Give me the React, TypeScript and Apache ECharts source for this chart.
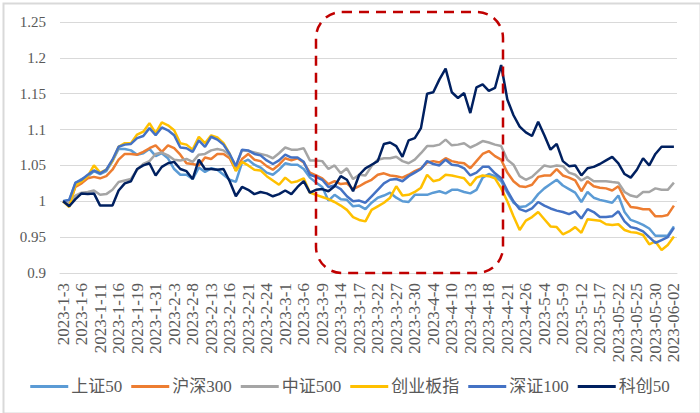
import React, { useEffect, useRef } from "react";
import * as echarts from "echarts";

const dates: string[] = [
  "2023-1-3","2023-1-4","2023-1-5","2023-1-6","2023-1-9","2023-1-10","2023-1-11","2023-1-12","2023-1-13","2023-1-16",
  "2023-1-17","2023-1-18","2023-1-19","2023-1-20","2023-1-30","2023-1-31","2023-2-1","2023-2-2","2023-2-3","2023-2-6",
  "2023-2-7","2023-2-8","2023-2-9","2023-2-10","2023-2-13","2023-2-14","2023-2-15","2023-2-16","2023-2-17","2023-2-20",
  "2023-2-21","2023-2-22","2023-2-23","2023-2-24","2023-2-27","2023-2-28","2023-3-1","2023-3-2","2023-3-3","2023-3-6",
  "2023-3-7","2023-3-8","2023-3-9","2023-3-10","2023-3-13","2023-3-14","2023-3-15","2023-3-16","2023-3-17","2023-3-20",
  "2023-3-21","2023-3-22","2023-3-23","2023-3-24","2023-3-27","2023-3-28","2023-3-29","2023-3-30","2023-3-31","2023-4-3",
  "2023-4-4","2023-4-6","2023-4-7","2023-4-10","2023-4-11","2023-4-12","2023-4-13","2023-4-14","2023-4-17","2023-4-18",
  "2023-4-19","2023-4-20","2023-4-21","2023-4-24","2023-4-25","2023-4-26","2023-4-27","2023-4-28","2023-5-4","2023-5-5",
  "2023-5-8","2023-5-9","2023-5-10","2023-5-11","2023-5-12","2023-5-15","2023-5-16","2023-5-17","2023-05-18","2023-05-19",
  "2023-05-22","2023-05-23","2023-05-24","2023-05-25","2023-05-26","2023-05-29","2023-05-30","2023-05-31","2023-06-01","2023-06-02",
];

const seriesNames: string[] = ["上证50", "沪深300", "中证500", "创业板指", "深证100", "科创50"];
const seriesColors: string[] = ["#5B9BD5", "#ED7D31", "#A5A5A5", "#FFC000", "#4472C4", "#002060"];

const sz50: number[] = [
  1.000,1.002,1.025,1.031,1.035,1.042,1.038,1.042,1.056,1.073,
  1.073,1.071,1.065,1.067,1.073,1.063,1.067,1.060,1.045,1.037,
  1.037,1.031,1.047,1.041,1.046,1.044,1.037,1.030,1.027,1.054,
  1.058,1.051,1.047,1.040,1.037,1.044,1.053,1.051,1.051,1.045,
  1.033,1.026,1.020,1.001,1.009,1.003,1.002,0.993,0.994,0.989,
  0.998,1.005,1.008,1.012,1.005,1.000,0.999,1.009,1.009,1.009,
  1.012,1.014,1.011,1.016,1.016,1.013,1.011,1.016,1.033,1.038,
  1.035,1.028,1.012,0.998,0.992,0.993,0.999,1.010,1.018,1.024,
  1.030,1.022,1.017,1.012,0.999,1.013,1.005,1.002,1.000,0.998,
  1.008,0.985,0.974,0.971,0.967,0.962,0.952,0.952,0.952,0.965,
];

const hs300: number[] = [
  1.000,0.996,1.020,1.025,1.032,1.034,1.032,1.035,1.044,1.058,
  1.066,1.066,1.065,1.069,1.074,1.078,1.069,1.078,1.074,1.065,
  1.053,1.052,1.050,1.061,1.059,1.066,1.066,1.060,1.043,1.059,
  1.066,1.058,1.056,1.049,1.044,1.051,1.060,1.057,1.060,1.054,
  1.040,1.036,1.032,1.024,1.028,1.024,1.025,1.017,1.021,1.026,
  1.030,1.037,1.039,1.036,1.035,1.033,1.037,1.042,1.046,1.054,
  1.056,1.054,1.060,1.056,1.054,1.053,1.046,1.056,1.066,1.070,
  1.063,1.058,1.040,1.028,1.021,1.020,1.023,1.034,1.036,1.036,
  1.045,1.036,1.033,1.029,1.014,1.028,1.021,1.019,1.018,1.015,
  1.021,1.004,0.992,0.991,0.989,0.989,0.979,0.979,0.981,0.994,
];

const zz500: number[] = [
  1.000,0.997,1.008,1.012,1.013,1.015,1.009,1.010,1.016,1.027,
  1.029,1.031,1.044,1.052,1.056,1.066,1.068,1.064,1.058,1.057,
  1.059,1.055,1.065,1.066,1.071,1.073,1.071,1.064,1.049,1.071,
  1.070,1.068,1.066,1.064,1.060,1.067,1.075,1.072,1.072,1.074,
  1.057,1.057,1.056,1.045,1.050,1.039,1.046,1.031,1.037,1.036,
  1.049,1.058,1.060,1.060,1.062,1.056,1.053,1.058,1.067,1.077,
  1.077,1.079,1.086,1.078,1.079,1.081,1.075,1.079,1.084,1.082,
  1.079,1.077,1.058,1.051,1.035,1.030,1.034,1.042,1.050,1.048,
  1.050,1.049,1.040,1.037,1.029,1.034,1.028,1.028,1.028,1.027,
  1.026,1.013,1.008,1.006,1.013,1.013,1.018,1.016,1.016,1.026,
];

const cybz: number[] = [
  1.000,0.992,1.022,1.028,1.035,1.050,1.040,1.044,1.056,1.076,
  1.081,1.081,1.093,1.097,1.109,1.095,1.110,1.106,1.099,1.081,
  1.079,1.072,1.090,1.081,1.092,1.089,1.081,1.066,1.042,1.055,
  1.050,1.044,1.043,1.035,1.029,1.023,1.033,1.026,1.028,1.032,
  1.012,1.009,1.006,1.003,0.999,0.994,0.988,0.978,0.974,0.972,
  0.988,0.993,0.998,1.005,1.021,1.008,1.009,1.013,1.019,1.037,
  1.028,1.030,1.037,1.036,1.034,1.032,1.022,1.033,1.036,1.035,
  1.032,1.018,1.000,0.979,0.960,0.973,0.978,0.985,0.975,0.965,
  0.964,0.954,0.958,0.964,0.956,0.975,0.974,0.973,0.968,0.967,
  0.968,0.960,0.957,0.956,0.953,0.940,0.944,0.932,0.939,0.951,
];

const sz100: number[] = [
  1.000,1.002,1.026,1.030,1.037,1.043,1.039,1.044,1.058,1.076,
  1.079,1.080,1.088,1.091,1.102,1.092,1.103,1.099,1.092,1.075,
  1.074,1.069,1.085,1.076,1.090,1.086,1.079,1.066,1.049,1.072,
  1.071,1.066,1.064,1.057,1.052,1.057,1.065,1.061,1.061,1.055,
  1.037,1.034,1.030,1.020,1.022,1.017,1.007,1.000,1.001,0.998,
  1.007,1.016,1.025,1.030,1.031,1.028,1.035,1.040,1.045,1.056,
  1.052,1.050,1.058,1.051,1.050,1.046,1.036,1.040,1.048,1.048,
  1.039,1.032,1.015,1.000,0.989,0.986,0.990,0.999,0.994,0.990,
  0.987,0.985,0.982,0.986,0.976,0.989,0.985,0.978,0.978,0.979,
  0.986,0.972,0.964,0.962,0.958,0.950,0.942,0.946,0.950,0.963,
];

const kc50: number[] = [
  1.000,0.993,1.003,1.011,1.010,1.011,0.994,0.994,0.994,1.015,
  1.025,1.028,1.045,1.050,1.053,1.036,1.048,1.053,1.055,1.045,
  1.042,1.031,1.058,1.045,1.045,1.044,1.045,1.028,1.007,1.020,
  1.016,1.010,1.013,1.011,1.007,1.010,1.015,1.010,1.020,1.028,
  1.012,1.016,1.017,1.014,1.021,1.035,1.030,1.014,1.037,1.046,
  1.051,1.056,1.080,1.082,1.077,1.062,1.085,1.088,1.102,1.150,
  1.152,1.170,1.185,1.152,1.144,1.151,1.123,1.159,1.163,1.154,
  1.158,1.190,1.142,1.120,1.104,1.096,1.091,1.111,1.092,1.072,
  1.080,1.056,1.049,1.050,1.036,1.046,1.048,1.052,1.057,1.062,
  1.053,1.038,1.033,1.044,1.060,1.050,1.066,1.076,1.076,1.076,
];

const seriesValues: number[][] = [sz50, hs300, zz500, cybz, sz100, kc50];

const yTicks = { min: 0.9, max: 1.25, interval: 0.05 };

const SERIF = "'Liberation Serif', 'Times New Roman', 'Noto Sans CJK SC', serif";

export default function App() {
  const ref = useRef<HTMLDivElement>(null);

  useEffect(() => {
    if (!ref.current) return;
    const chart = echarts.init(ref.current, undefined, { renderer: "svg" });
    chart.setOption({
      animation: false,
      backgroundColor: "#ffffff",
      grid: { left: 60, right: 23, top: 22, bottom: 140, containLabel: false },
      legend: {
        data: seriesNames,
        left: "center",
        top: 373,
        icon: "rect",
        itemWidth: 38,
        itemHeight: 3,
        itemGap: 9,
        textStyle: { fontFamily: SERIF, fontSize: 17, color: "#595959", padding: [0, 0, 0, -2] },
      },
      xAxis: {
        type: "category",
        data: dates,
        boundaryGap: true,
        axisLine: { show: true, lineStyle: { color: "#D9D9D9", width: 1 } },
        axisTick: { show: false },
        axisLabel: {
          interval: 2,
          rotate: 90,
          margin: 10,
          fontFamily: SERIF,
          fontSize: 17,
          color: "#595959",
        },
      },
      yAxis: {
        type: "value",
        min: yTicks.min,
        max: yTicks.max,
        interval: yTicks.interval,
        axisLine: { show: false },
        axisTick: { show: false },
        splitLine: { lineStyle: { color: "#D9D9D9", width: 1 } },
        axisLabel: {
          margin: 14,
          fontFamily: SERIF,
          fontSize: 15,
          color: "#595959",
          formatter: (v: number) => String(Number(v.toFixed(2))),
        },
      },
      series: seriesNames.map((name, k) => ({
        name,
        type: "line",
        data: seriesValues[k],
        symbol: "none",
        color: seriesColors[k],
        lineStyle: { width: 2.5, color: seriesColors[k] },
      })),
      graphic: [
        {
          type: "rect",
          left: 1,
          top: 1,
          shape: { x: 0, y: 0, width: 697, height: 410 },
          style: { fill: "none", stroke: "#D9D9D9", lineWidth: 2 },
          silent: true,
        },
        {
          type: "rect",
          shape: { x: 316, y: 12, width: 187, height: 261, r: 26 },
          style: { fill: "none", stroke: "#C00000", lineWidth: 2.5, lineDash: [10, 7] },
          z: 100,
          silent: true,
        },
      ],
    });
    return () => chart.dispose();
  }, []);

  return (
    <div
      ref={ref}
      style={{ position: "absolute", left: 0, top: 0, width: 700, height: 413 }}
    />
  );
}
